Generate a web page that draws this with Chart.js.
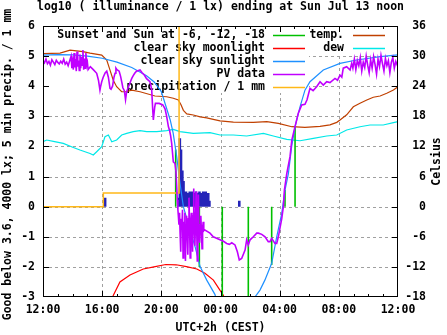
<!DOCTYPE html>
<html>
<head>
<meta charset="utf-8">
<script src="https://cdn.jsdelivr.net/npm/chart.js@4.4.1/dist/chart.umd.min.js"></script>
<style>
  body { margin: 0; background: #fff; }
  canvas { display: block; }
</style>
</head>
<body>
<canvas id="chart" width="447" height="335"></canvas>
<script>
/**
 * Data  (x = hours after 12:00 local, 0..24)
 */
const titleText = 'log10 ( illuminance / 1 lx) ending at Sun Jul 13 noon';
const yTitle = 'Good below 3.6, 4000 lx; 5 min precip. / 1 mm';
const y2Title = 'Celsius';
const xTitle = 'UTC+2h (CEST)';
const xTickLabels = ['12:00', '16:00', '20:00', '00:00', '04:00', '08:00', '12:00'];

// clear sky sunlight, log10 lx
const sunlight = [
  [0, 5.03], [1, 5.05], [2, 5.04], [3, 5.0], [4, 4.93], [5, 4.8], [6, 4.62], [7, 4.35],
  [7.5, 4.15], [8.0, 3.82], [8.3, 3.35], [8.6, 2.88], [8.8, 2.44], [9.04, 1.66], [9.26, 0.78],
  [9.49, 0.0], [9.94, -0.77], [10.28, -1.33], [10.62, -1.99], [11.07, -2.44], [11.63, -2.92],
  [11.8, -3.3], [12.5, null], [14.2, -3.3], [14.33, -3.0], [14.67, -2.77], [15.0, -2.44],
  [15.46, -1.88], [15.8, -1.0], [16.14, -0.22], [16.36, 0.55], [16.59, 1.1], [16.81, 1.99],
  [17.04, 2.66], [17.38, 3.32], [17.71, 3.87], [18.05, 4.15], [18.95, 4.54], [20.08, 4.76],
  [21.2, 4.87], [22.8, 4.98], [24, 5.04]
];

// clear sky moonlight, log10 lx
const moonlight = [
  [4.6, -3.2], [4.75, -2.95], [5.2, -2.5], [5.88, -2.27], [6.78, -2.07], [7.5, -2.0],
  [8.3, -1.92], [9.0, -1.93], [9.7, -1.99], [10.4, -2.07], [10.95, -2.21], [11.52, -2.44],
  [11.96, -2.77], [12.2, -2.95], [12.3, -3.2]
];

// measured PV illuminance, log10 lx
const pvData = [
  [0.00, 4.85], [0.10, 4.78], [0.20, 4.90], [0.30, 4.75], [0.40, 4.82], [0.50, 4.70], [0.60, 4.88],
  [0.70, 4.80], [0.80, 4.72], [0.90, 4.86], [1.00, 4.79], [1.10, 4.74], [1.20, 4.83], [1.30, 4.76],
  [1.40, 4.90], [1.50, 4.73], [1.60, 4.80], [1.70, 4.68], [1.80, 4.84],
  [1.90, 5.00], [1.95, 4.60], [2.00, 4.95], [2.05, 4.55], [2.10, 5.10], [2.15, 4.62], [2.20, 4.90],
  [2.25, 4.50], [2.30, 5.15], [2.35, 4.65], [2.40, 4.85], [2.45, 4.52], [2.50, 5.05], [2.55, 4.60],
  [2.60, 4.98], [2.65, 4.70], [2.70, 5.20], [2.75, 4.55], [2.80, 4.92], [2.85, 4.60], [2.90, 5.10],
  [2.95, 4.70], [3.00, 4.80],
  [3.05, 4.55], [3.20, 4.65], [3.40, 4.55], [3.63, 4.43], [3.75, 4.20], [3.85, 3.87], [3.90, 4.00],
  [3.97, 4.15], [4.07, 4.30], [4.20, 4.44], [4.31, 4.50], [4.42, 4.30], [4.53, 3.93], [4.60, 3.90],
  [4.70, 4.00], [4.80, 4.30], [4.87, 4.43], [4.93, 4.60], [5.00, 4.55], [5.15, 4.50], [5.25, 4.32],
  [5.32, 4.15], [5.40, 3.95], [5.50, 3.85], [5.58, 3.55], [5.65, 3.80], [5.75, 3.95], [5.87, 4.10],
  [6.00, 4.26], [6.10, 4.35], [6.20, 4.43], [6.32, 4.50], [6.56, 4.54], [6.70, 4.45], [6.85, 4.37],
  [7.00, 4.25], [7.23, 4.15], [7.30, 4.00], [7.35, 3.87], [7.42, 3.20], [7.46, 2.88], [7.55, 3.30],
  [7.60, 3.43], [7.85, 3.43], [8.10, 3.38], [8.25, 3.25], [8.36, 3.00], [8.48, 2.65], [8.55, 2.55],
  [8.63, 2.35], [8.70, 2.10], [8.81, 1.49], [8.92, 1.44], [8.99, 1.16], [9.04, 0.66], [9.08, 0.22],
  [9.12, -0.10],
  [9.15, -0.3], [9.19, -0.6], [9.23, -0.2], [9.27, -0.9], [9.31, -1.5], [9.35, -0.4], [9.39, -0.7],
  [9.43, -0.1], [9.47, -1.7], [9.51, -0.5], [9.55, -0.8], [9.59, -0.2], [9.63, -1.8], [9.67, -0.6],
  [9.71, -0.3], [9.75, -0.9], [9.79, -1.6], [9.83, -0.4], [9.87, 0.3], [9.91, -0.7], [9.95, -1.7],
  [9.99, -0.5], [10.03, -0.2], [10.07, -0.9], [10.11, -1.5], [10.15, -0.3], [10.19, 0.6], [10.23, -0.8],
  [10.27, -1.3], [10.31, -0.5], [10.35, 0.5], [10.39, -0.7], [10.43, -1.8], [10.47, -0.6], [10.51, 0.4],
  [10.55, -0.9], [10.59, -1.2], [10.63, -0.6], [10.67, -0.3], [10.71, -0.8], [10.75, -1.4], [10.79, -0.7],
  [10.83, -0.5], [10.87, -0.8], [10.92, -0.77],
  [11.29, -0.88], [11.51, -1.0], [11.97, -1.1], [12.2, -1.15], [12.42, -1.22], [12.6, -1.25],
  [12.76, -1.2], [12.98, -1.27], [13.14, -1.5], [13.27, -1.77], [13.43, -1.72], [13.66, -1.44],
  [13.77, -1.1], [13.88, -1.27], [14.0, -1.1], [14.22, -1.0], [14.45, -0.88], [14.56, -0.88],
  [14.79, -0.92], [15.01, -1.0], [15.23, -1.16], [15.35, -1.16], [15.46, -1.05], [15.68, -1.22],
  [15.8, -1.22], [15.91, -1.0], [16.14, -0.4], [16.25, 0.0], [16.32, 0.55], [16.48, 1.1],
  [16.7, 1.66], [16.82, 2.21], [17.04, 2.66], [17.26, 3.1], [17.49, 3.38], [17.71, 3.4],
  [17.85, 3.55], [18.05, 3.93], [18.26, 3.85], [18.51, 3.99], [18.73, 4.15], [18.95, 4.04],
  [19.18, 4.15], [19.4, 4.12], [19.74, 4.26], [19.91, 4.2], [20.08, 4.37], [20.2, 4.3],
  [20.3, 4.6], [20.53, 4.65], [20.76, 4.54], [20.87, 4.76],
  [20.95, 4.6], [21.05, 4.9], [21.15, 4.55], [21.25, 4.85], [21.35, 4.68], [21.45, 4.95], [21.55, 4.5],
  [21.65, 4.8], [21.75, 4.62], [21.85, 5.0], [21.95, 4.7], [22.05, 4.45], [22.15, 4.88], [22.25, 4.6],
  [22.35, 4.98], [22.45, 4.72], [22.55, 4.4], [22.65, 4.9], [22.75, 4.65], [22.85, 5.02], [22.95, 4.75],
  [23.05, 4.5], [23.15, 4.92], [23.25, 4.68], [23.35, 4.85], [23.45, 4.45], [23.55, 4.8], [23.65, 4.95],
  [23.75, 4.6], [23.85, 4.82], [23.95, 4.7], [24.0, 4.75]
];

// cumulative precipitation, mm (changes only)
const precipTotal = [[0, 0], [4.08, 0.45], [9.2, 7.5], [24, 7.5]];

// 5 min precipitation bars, mm
const precip5Times = [4.2, 9.17, 9.25, 9.33, 9.42, 9.5, 9.58, 9.67, 9.75, 9.83, 9.92, 10.0, 10.08,
  10.17, 10.25, 10.33, 10.42, 10.5, 10.58, 10.67, 10.75, 10.83, 10.92, 11.0, 11.08, 11.17, 11.25, 13.27];
const precip5Values = [0.3, 0.3, 2.27, 1.9, 1.2, 0.85, 0.45, 0.5, 0.3, 0.45, 0.5, 0.3, 0.5,
  0.45, 0.2, 0.5, 0.4, 0.45, 0.5, 0.3, 0.45, 0.5, 0.4, 0.5, 0.2, 0.45, 0.2, 0.2];

// sunset, sun at -6, -12, -18 markers
const sunTimes = [8.97, 10.57, 12.12, 13.88, 15.46, 16.36, 17.04];
const sunFrom = [0, 0, 0, 0, 0, 0, 0];
const sunTo = [1.9, -2.0, -3.2, -3.2, -1.94, 0.55, 2.66];

// temperature and dew point, Celsius
const temperature = [
  [0, 30.5], [1.15, 30.6], [1.83, 31.2], [2.7, 30.9], [3.18, 30.6], [3.97, 30.2], [4.31, 29.2],
  [4.53, 27.2], [4.75, 25.2], [4.98, 23.9], [5.32, 22.9], [5.61, 22.9], [6.0, 23.2], [6.56, 22.9],
  [7.57, 22.05], [8.36, 21.9], [8.81, 21.6], [9.15, 21.25], [9.33, 20.3], [9.49, 19.2], [9.72, 18.5],
  [10.16, 18.26], [10.62, 17.9], [11.07, 17.7], [11.51, 17.4], [11.97, 17.1], [12.87, 16.85],
  [14.22, 16.8], [15.13, 16.93], [15.91, 16.6], [16.82, 15.93], [17.71, 15.8], [18.73, 16.0],
  [19.4, 16.3], [19.86, 16.8], [20.08, 17.27], [20.53, 18.3], [20.98, 19.9], [21.43, 20.6],
  [21.89, 21.25], [22.33, 21.8], [22.79, 22.05], [23.24, 22.6], [23.69, 23.24], [24, 23.9]
];
const dewPoint = [
  [0, 12.94], [0.25, 13.28], [0.7, 13.0], [1.37, 12.6], [2.05, 11.8], [2.5, 11.3], [3.18, 10.6],
  [3.4, 10.3], [3.63, 10.95], [3.97, 11.95], [4.19, 13.94], [4.42, 14.28], [4.65, 12.94], [4.98, 13.28],
  [5.32, 14.28], [5.66, 14.6], [6.1, 14.94], [6.56, 15.15], [7.01, 14.94], [7.69, 14.94], [8.36, 15.15],
  [8.81, 15.4], [9.26, 14.94], [10.16, 14.6], [11.29, 14.74], [11.97, 14.28], [12.87, 14.28],
  [13.77, 14.08], [14.9, 14.6], [15.57, 14.08], [16.48, 13.4], [17.38, 13.14], [18.28, 13.6],
  [19.18, 14.08], [19.86, 14.28], [20.53, 15.27], [21.43, 15.93], [22.11, 16.27], [23.0, 16.27],
  [23.69, 16.73], [24, 16.93]
];

const colors = {
  sun: '#00c000', moon: '#ff0000', sunlight: '#1e90ff', pv: '#c000ff',
  precip: '#ffb818', precip5: '#2424b8', temp: '#c04000', dew: '#00e8e8'
};

const legendCol1 = [
  ['Sunset and Sun at -6, -12, -18', colors.sun],
  ['clear sky moonlight', colors.moon],
  ['clear sky sunlight', colors.sunlight],
  ['PV data', colors.pv],
  ['precipitation / 1 mm', colors.precip]
];
const legendCol2 = [
  ['temp.', colors.temp],
  ['dew', colors.dew]
];

/**
 * Methods
 */
const FONT = 'bold 11.5px "DejaVu Sans Mono", monospace';
const toPts = (pairs) => pairs.map(([x, y]) => ({ x, y }));
const impulses = (times, from, to) =>
  times.flatMap((t, i) => [{ x: t, y: from[i] }, { x: t, y: to[i] }, { x: t, y: null }]);

const line = (ctx, x1, y1, x2, y2) => {
  ctx.beginPath();
  ctx.moveTo(x1, y1);
  ctx.lineTo(x2, y2);
  ctx.stroke();
};

// gnuplot look: dashed grid, opaque key, frame with inward ticks, titles
const gnuplotLook = {
  id: 'gnuplotLook',
  beforeDatasetsDraw(chart) {
    const { ctx, chartArea: a, scales: { x, y } } = chart;
    ctx.save();
    ctx.strokeStyle = '#a0a0a0';
    ctx.lineWidth = 1;
    ctx.setLineDash([3, 3]);
    for (let h = 4; h < 24; h += 4) {
      const px = Math.round(x.getPixelForValue(h)) + 0.5;
      line(ctx, px, a.top, px, a.bottom);
    }
    for (let v = -2; v < 6; v++) {
      const py = Math.round(y.getPixelForValue(v)) + 0.5;
      line(ctx, a.left, py, a.right, py);
    }
    ctx.setLineDash([]);

    // opaque key
    ctx.fillStyle = '#fff';
    ctx.fillRect(a.left + 1, a.top + 1, 265, 66);
    ctx.fillRect(a.left + 266, a.top + 1, 84, 28);

    ctx.font = FONT;
    ctx.fillStyle = '#000';
    ctx.textAlign = 'right';
    ctx.textBaseline = 'middle';
    ctx.lineWidth = 1.5;
    legendCol1.forEach(([label, color], i) => {
      const ly = 35 + i * 13;
      ctx.fillText(label, 265, ly);
      ctx.strokeStyle = color;
      line(ctx, 273, ly + 0.5, 305, ly + 0.5);
    });
    legendCol2.forEach(([label, color], i) => {
      const ly = 35 + i * 13;
      ctx.fillText(label, 344, ly);
      ctx.strokeStyle = color;
      line(ctx, 353, ly + 0.5, 385, ly + 0.5);
    });
    ctx.restore();
  },
  afterDraw(chart) {
    const { ctx, chartArea: a, scales: { x, y } } = chart;
    ctx.save();
    ctx.strokeStyle = '#000';
    ctx.lineWidth = 1;
    ctx.strokeRect(a.left + 0.5, a.top + 0.5, a.right - a.left - 1, a.bottom - a.top - 1);

    for (let h = 1; h < 24; h++) {
      const px = Math.round(x.getPixelForValue(h)) + 0.5;
      const len = h % 4 === 0 ? 6 : 3;
      line(ctx, px, a.bottom, px, a.bottom - len);
      line(ctx, px, a.top, px, a.top + len);
    }
    for (let v = -2; v < 6; v++) {
      const py = Math.round(y.getPixelForValue(v)) + 0.5;
      line(ctx, a.left, py, a.left + 6, py);
      line(ctx, a.right, py, a.right - 6, py);
    }

    ctx.font = FONT;
    ctx.fillStyle = '#000';
    ctx.textAlign = 'center';
    ctx.textBaseline = 'middle';
    const cx = (a.left + a.right) / 2;
    ctx.fillText(titleText, cx, 7);
    ctx.fillText(xTitle, cx, 328);

    ctx.save();
    ctx.translate(8.5, 164.5);
    ctx.rotate(-Math.PI / 2);
    ctx.fillText(yTitle, 0, 0);
    ctx.restore();

    ctx.save();
    ctx.translate(437, (a.top + a.bottom) / 2);
    ctx.rotate(-Math.PI / 2);
    ctx.fillText(y2Title, 0, 0);
    ctx.restore();
    ctx.restore();
  }
};

const tickFont = { family: '"DejaVu Sans Mono", monospace', size: 11.5, weight: 'bold' };

const createChart = () => {
  const ctx = document.getElementById('chart').getContext('2d');
  return new Chart(ctx, {
    type: 'line',
    data: {
      datasets: [
        { label: 'PV data', data: toPts(pvData), borderColor: colors.pv, borderWidth: 1.6 },
        { label: 'precipitation / 1 mm', data: toPts(precipTotal), borderColor: colors.precip, borderWidth: 1.5, stepped: true },
        { label: 'clear sky sunlight', data: toPts(sunlight), borderColor: colors.sunlight, borderWidth: 1.2 },
        { label: 'Sunset and Sun at -6, -12, -18', data: impulses(sunTimes, sunFrom, sunTo), borderColor: colors.sun, borderWidth: 1.6 },
        { label: 'clear sky moonlight', data: toPts(moonlight), borderColor: colors.moon, borderWidth: 1.2 },
        { label: '5 min precip.', data: impulses(precip5Times, precip5Times.map(() => 0), precip5Values), borderColor: colors.precip5, borderWidth: 2.6 },
        { label: 'temp.', data: toPts(temperature), borderColor: colors.temp, borderWidth: 1.2, yAxisID: 'y2' },
        { label: 'dew', data: toPts(dewPoint), borderColor: colors.dew, borderWidth: 1.2, yAxisID: 'y2' }
      ]
    },
    options: {
      responsive: false,
      animation: false,
      events: [],
      spanGaps: false,
      layout: { padding: { top: 26, right: 21, bottom: 0, left: 0 } },
      elements: { point: { radius: 0 }, line: { tension: 0, fill: false } },
      plugins: { legend: { display: false }, tooltip: { enabled: false }, title: { display: false } },
      scales: {
        x: {
          type: 'linear', min: 0, max: 24,
          afterFit: (s) => { s.height = 38; },
          grid: { display: false, drawTicks: false },
          border: { display: false },
          ticks: {
            stepSize: 4, padding: 6, color: '#000', font: tickFont, maxRotation: 0, autoSkip: false,
            callback: (v) => xTickLabels[Math.round(v / 4)]
          }
        },
        y: {
          position: 'left', min: -3, max: 6,
          afterFit: (s) => { s.width = 43; },
          grid: { display: false, drawTicks: false },
          border: { display: false },
          ticks: { stepSize: 1, padding: 8, color: '#000', font: tickFont, callback: (v) => String(v) }
        },
        y2: {
          position: 'right', min: -18, max: 36,
          afterFit: (s) => { s.width = 28; },
          grid: { display: false, drawTicks: false },
          border: { display: false },
          ticks: { stepSize: 6, crossAlign: 'far', color: '#000', font: tickFont, callback: (v) => String(v) }
        }
      }
    },
    plugins: [gnuplotLook]
  });
};

document.addEventListener('DOMContentLoaded', () => {
  createChart();
});
</script>
</body>
</html>
